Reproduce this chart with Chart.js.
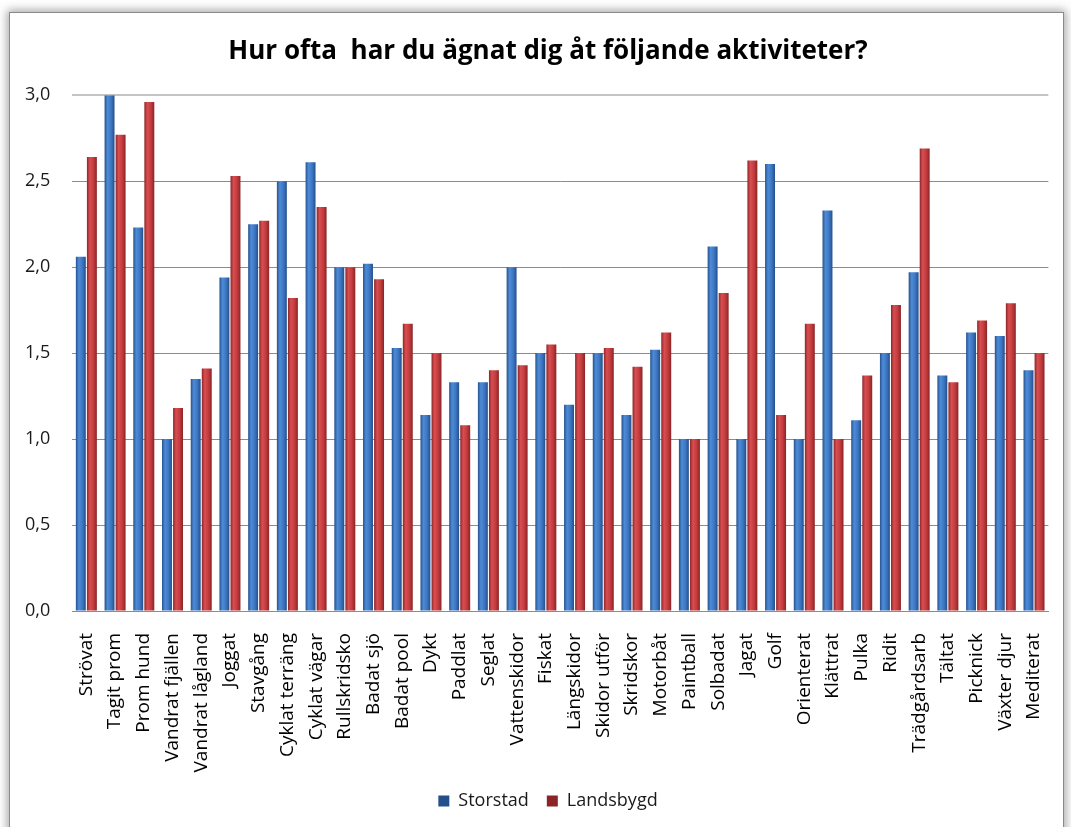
<!DOCTYPE html>
<html>
<head>
<meta charset="utf-8">
<script src="https://cdn.jsdelivr.net/npm/chart.js@4/dist/chart.umd.min.js"></script>
<style>
  html, body { margin: 0; padding: 0; background: #ffffff; }
  body { width: 1071px; height: 827px; position: relative; overflow: hidden; }
  #frame { position: absolute; left: 9px; top: 12px; width: 1053px; height: 830px;
           border: 1px solid #8a8a8a; background: #ffffff;
           box-shadow: 0 0 9px 2px rgba(0,0,0,0.35); }
  #wrap { position: absolute; left: 0; top: 0; width: 1071px; height: 827px; }
</style>
</head>
<body>
<div id="frame"></div>
<div id="wrap"><canvas id="c" width="1071" height="827"></canvas></div>
<script>
const categories = ['Strövat','Tagit prom','Prom hund','Vandrat fjällen','Vandrat lågland','Joggat','Stavgång','Cyklat terräng','Cyklat vägar','Rullskridsko','Badat sjö','Badat pool','Dykt','Paddlat','Seglat','Vattenskidor','Fiskat','Längskidor','Skidor utför','Skridskor','Motorbåt','Paintball','Solbadat','Jagat','Golf','Orienterat','Klättrat','Pulka','Ridit','Trädgårdsarb','Tältat','Picknick','Växter djur','Mediterat'];
const storstad = [2.06, 3.00, 2.23, 1.00, 1.35, 1.94, 2.25, 2.50, 2.61, 2.00, 2.02, 1.53, 1.14, 1.33, 1.33, 2.00, 1.50, 1.20, 1.50, 1.14, 1.52, 1.00, 2.12, 1.00, 2.60, 1.00, 2.33, 1.11, 1.50, 1.97, 1.37, 1.62, 1.60, 1.40];
const landsbygd = [2.64, 2.77, 2.96, 1.18, 1.41, 2.53, 2.27, 1.82, 2.35, 2.00, 1.93, 1.67, 1.50, 1.08, 1.40, 1.43, 1.55, 1.50, 1.53, 1.42, 1.62, 1.00, 1.85, 2.62, 1.14, 1.67, 1.00, 1.37, 1.78, 2.69, 1.33, 1.69, 1.79, 1.50];
const yTicks = [0, 0.5, 1.0, 1.5, 2.0, 2.5, 3.0];
const seriesNames = ['Storstad', 'Landsbygd'];
const titleText = 'Hur ofta  har du ägnat dig åt följande aktiviteter?';

const CAT_PCT = 0.77, BAR_PCT = 0.9;
const palettes = [
  { solid: '#3A72BE', stops: ['#25528F', '#4E8BD6', '#3D77C4', '#254F8A'] },
  { solid: '#C0393B', stops: ['#8E2628', '#D84E51', '#C43C3E', '#8A2426'] }
];

function barFill(ctx) {
  const p = palettes[ctx.datasetIndex];
  const chart = ctx.chart;
  const xs = chart.scales && chart.scales.x;
  if (ctx.dataIndex === undefined || !xs || !chart.chartArea) return p.solid;
  const n = categories.length;
  const catW = xs.width / n;
  const half = catW * CAT_PCT / 2;
  const w = half * BAR_PCT;
  const cx = xs.getPixelForValue(ctx.dataIndex) + (ctx.datasetIndex - 0.5) * half;
  const g = chart.ctx.createLinearGradient(cx - w / 2, 0, cx + w / 2, 0);
  g.addColorStop(0, p.stops[0]);
  g.addColorStop(0.3, p.stops[1]);
  g.addColorStop(0.65, p.stops[2]);
  g.addColorStop(1, p.stops[3]);
  return g;
}

const FONT = '"Open Sans", Lato, "Liberation Sans", sans-serif';

new Chart(document.getElementById('c'), {
  type: 'bar',
  data: {
    labels: categories,
    datasets: [
      { label: seriesNames[0], data: storstad, backgroundColor: barFill, borderWidth: 0,
        categoryPercentage: CAT_PCT, barPercentage: BAR_PCT },
      { label: seriesNames[1], data: landsbygd, backgroundColor: barFill, borderWidth: 0,
        categoryPercentage: CAT_PCT, barPercentage: BAR_PCT }
    ]
  },
  options: {
    responsive: false,
    animation: false,
    devicePixelRatio: 1,
    layout: { padding: { left: 37, right: 12, top: 0, bottom: 7 } },
    plugins: {
      tooltip: { enabled: false },
      title: {
        display: true, text: titleText, color: '#000000',
        font: { family: FONT, size: 26, weight: 'bold' },
        padding: { top: 36, bottom: 28 }
      },
      legend: {
        position: 'bottom',
        labels: {
          color: '#1a1a1a', font: { family: FONT, size: 18 },
          boxWidth: 11, boxHeight: 11, padding: 18
        }
      }
    },
    scales: {
      x: {
        grid: { display: false },
        border: { display: true, color: '#8c8c8c', width: 1 },
        ticks: {
          color: '#000000', font: { family: FONT, size: 19 },
          minRotation: 90, maxRotation: 90, autoSkip: false, padding: 14
        },
        afterFit: (s) => { s.height = 163; }
      },
      y: {
        min: 0, max: 3,
        afterBuildTicks: (s) => { s.ticks = yTicks.map(v => ({ value: v })); },
        grid: {
          drawTicks: false,
          color: (c) => (c.tick && c.tick.value === 3) ? '#c4c4c4' : '#8c8c8c',
          lineWidth: (c) => (c.tick && c.tick.value === 3) ? 2 : 1
        },
        border: { display: false },
        ticks: {
          color: '#1a1a1a', font: { family: FONT, size: 18 },
          mirror: true, crossAlign: 'near', padding: -47,
          callback: (v) => Number(v).toFixed(1).replace('.', ',')
        },
        afterFit: (s) => { s.width = 35; }
      }
    }
  }
});
</script>
</body>
</html>
